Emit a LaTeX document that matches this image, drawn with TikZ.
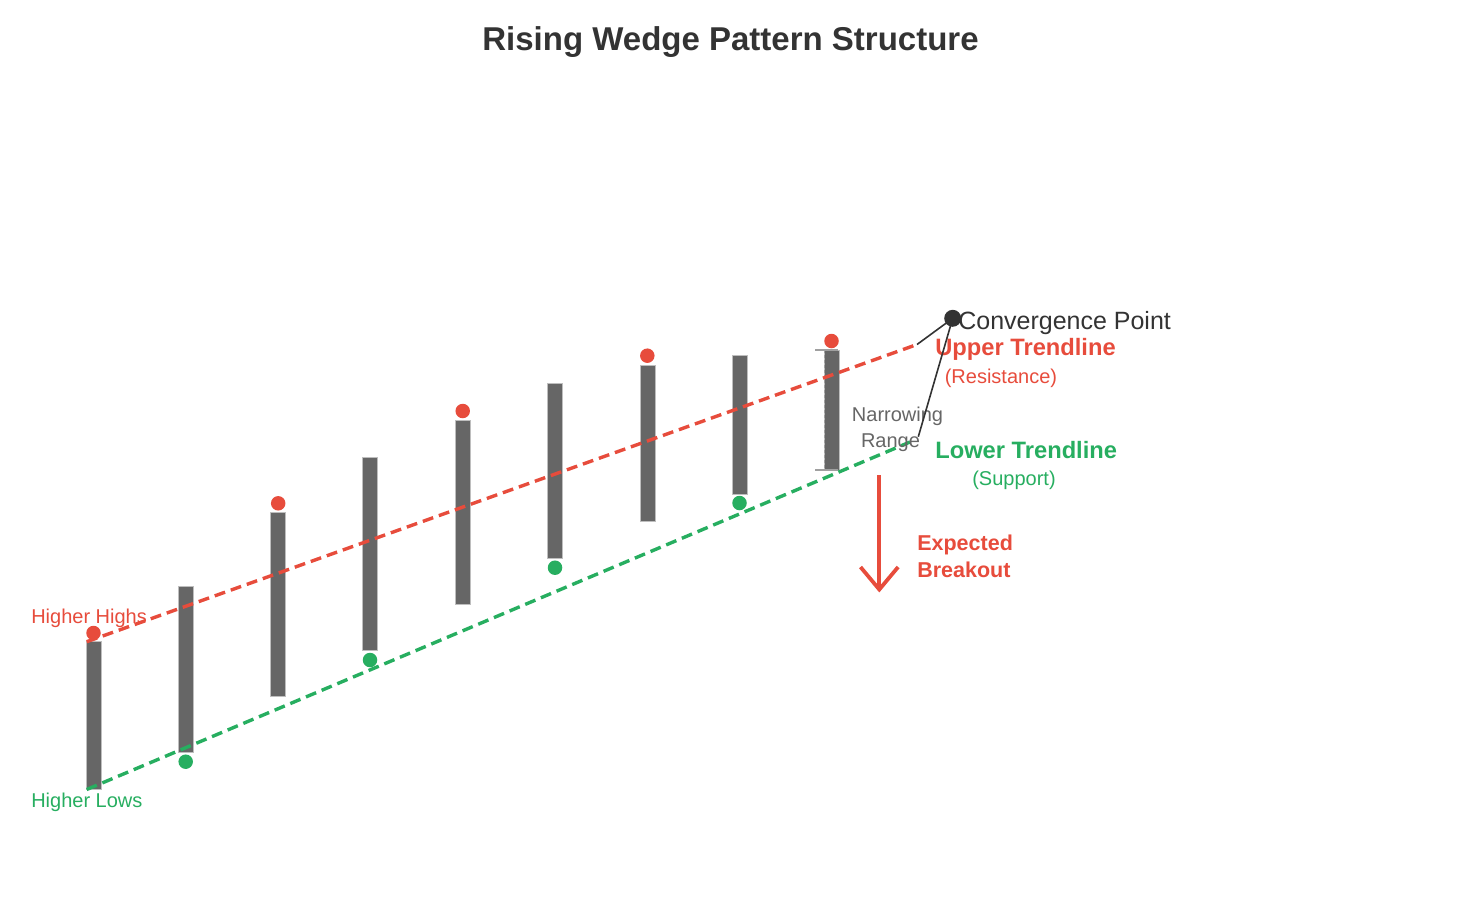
\documentclass[tikz,border=0pt]{standalone}
\usepackage{fontspec}
\setmainfont{Liberation Sans}
\usepackage{tikz}
\usetikzlibrary{arrows.meta}
\definecolor{bar_gray}{RGB}{102,102,102}
\definecolor{bar_edge}{RGB}{190,190,190}
\definecolor{wedge_red}{RGB}{231,76,60}
\definecolor{wedge_green}{RGB}{39,174,96}
\definecolor{text_dark}{RGB}{51,51,51}
\definecolor{text_gray}{RGB}{102,102,102}
\definecolor{tick_gray}{RGB}{160,160,160}

\begin{document}
\begin{tikzpicture}[x=1pt,y=-1pt,semithick]
    \tikzstyle{bar}=[fill=bar_gray, draw=bar_edge, line width=0.8pt]
    \tikzstyle{dot}=[circle, inner sep=0pt, minimum size=14.5pt, draw=none]
    \tikzstyle{hi}=[style=dot, fill=wedge_red]
    \tikzstyle{lo}=[style=dot, fill=wedge_green]
    \tikzstyle{trend}=[line width=3.4pt, dash pattern=on 11pt off 6pt]
    \tikzstyle{lbl}=[inner sep=0pt, anchor=base west]
    \tikzstyle{fsmall}=[font=\fontsize{20}{24}\selectfont]
    \tikzstyle{fbold}=[font=\fontsize{23.7}{28}\selectfont\bfseries]

    \useasboundingbox (0,0) rectangle (1463,902);

    % title
    \node[inner sep=0pt, anchor=base, text=text_dark, font=\fontsize{33}{38}\selectfont\bfseries]
        (title) at (730.5,50) {Rising Wedge Pattern Structure};

    % price bars: centre / top / bottom
    \foreach \x/\t/\b in {93.5/641.5/789.5, 185.8/586/752.5, 278.2/512.7/696.7,
                          370.2/457.3/650.7, 462.5/420/604.3, 554.8/383/558.3,
                          647.5/365/521, 739.8/355.7/494, 831.5/350/470}
      \draw[bar] (\x-7.5,\t) rectangle (\x+7.5,\b);

    % narrowing range bracket
    \coordinate (nr-top) at (824,350);
    \coordinate (nr-bot) at (824,470);
    \draw[tick_gray, line width=0.8pt, dash pattern=on 3pt off 2pt] (nr-top) -- (nr-bot);
    \draw[tick_gray, line width=2pt] (815,350) -- (838,350);
    \draw[tick_gray, line width=2pt] (815,470) -- (838,470);

    % trendlines
    \coordinate (up-start) at (86.7,641.7);
    \coordinate (up-end)   at (917,344.5);
    \coordinate (dn-start) at (86.7,789.5);
    \coordinate (dn-end)   at (910,442);
    \coordinate (lk-dn)    at (918.3,436.7);
    \path
     (up-start) edge[trend, wedge_red] (up-end)
     (dn-start) edge[trend, wedge_green] (dn-end)
     ;

    % swing highs and lows
    \node[hi] (h1) at (93.5,633)   {};
    \node[hi] (h2) at (278.2,503.3) {};
    \node[hi] (h3) at (462.7,411)  {};
    \node[hi] (h4) at (647.3,355.7) {};
    \node[hi] (h5) at (831.5,341)  {};
    \node[lo] (l1) at (185.7,761.7) {};
    \node[lo] (l2) at (370,660)    {};
    \node[lo] (l3) at (555,567.7)  {};
    \node[lo] (l4) at (739.5,503)  {};

    % labels
    \node[lbl, fsmall, text=wedge_red]   (hh-lbl) at (31,623.5) {Higher Highs};
    \node[lbl, fsmall, text=wedge_green] (hl-lbl) at (31,807)   {Higher Lows};
    \node[lbl, font=\fontsize{25}{30}\selectfont, text=text_dark] (conv-lbl) at (958,329) {Convergence Point};
    \node[lbl, fbold, text=wedge_red]    (up-lbl)  at (935,355)   {Upper Trendline};
    \node[lbl, fsmall, text=wedge_red]   (res-lbl) at (944.5,383) {(Resistance)};
    \node[lbl, fbold, text=wedge_green]  (dn-lbl)  at (935,458)   {Lower Trendline};
    \node[lbl, fsmall, text=wedge_green] (sup-lbl) at (972,485)   {(Support)};
    \node[inner sep=0pt, anchor=base, fsmall, text=text_gray] (nr-lbl1) at (897.5,421) {Narrowing};
    \node[inner sep=0pt, anchor=base, fsmall, text=text_gray] (nr-lbl2) at (890.5,447) {Range};
    \node[lbl, font=\fontsize{21.5}{26}\selectfont\bfseries, text=wedge_red] (bo-lbl1) at (917,550.5) {Expected};
    \node[lbl, font=\fontsize{21.5}{26}\selectfont\bfseries, text=wedge_red] (bo-lbl2) at (917,577.5) {Breakout};

    % convergence point and its links
    \node[circle, inner sep=0pt, minimum size=17pt, fill=text_dark] (conv) at (952.7,318.3) {};
    \draw[text_dark, line width=1.6pt] (conv.center) -- (up-end);
    \draw[text_dark, line width=1.6pt] (conv.center) -- (lk-dn);

    % expected breakout arrow
    \coordinate (bo-top) at (879.3,475);
    \coordinate (bo-tip) at (879.3,589.5);
    \coordinate (bo-l) at (860.5,567);
    \coordinate (bo-r) at (898.1,567);
    \draw[wedge_red, line width=3.8pt] (bo-top) -- (bo-tip);
    \draw[wedge_red, line width=3.8pt, line join=miter] (bo-l) -- (bo-tip) -- (bo-r);
\end{tikzpicture}
\end{document}
